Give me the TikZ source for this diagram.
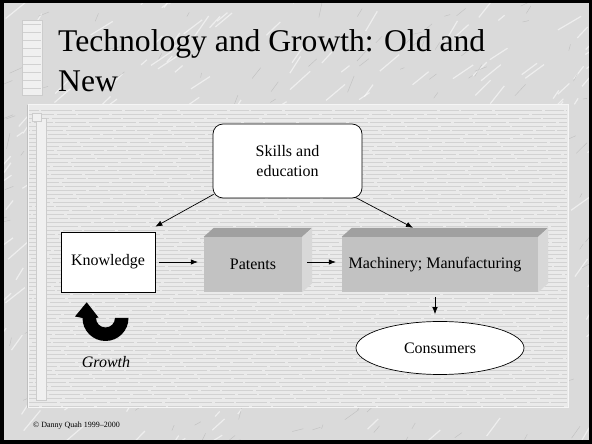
\documentclass[tikz,border=0pt]{standalone}
\usepackage{fontspec}
\setmainfont{Liberation Serif}
\usetikzlibrary{arrows.meta,shapes.geometric,calc}
\definecolor{marble}{HTML}{DADADA}
\definecolor{veindark}{HTML}{A0A0A0}
\definecolor{panelfill}{HTML}{EAEAEA}
\definecolor{panelline}{HTML}{D2D2D2}
\definecolor{boxfront}{HTML}{C2C2C2}
\definecolor{boxtop}{HTML}{A0A0A0}
\definecolor{boxside}{HTML}{D8D8D8}
\begin{document}
\begin{tikzpicture}[x=1pt,y=1pt,
  txt/.style={font=\fontsize{16}{20}\selectfont},
  conn/.style={-{Latex[length=7pt,width=5.5pt]}, line width=0.7pt},
  boxface/.style={fill=boxfront, draw=none, inner sep=0pt, txt},
  topface/.style={fill=boxtop},
  sideface/.style={fill=boxside},
  veinlight/.style={white, line width=1.2pt, opacity=0.55},
  veingray/.style={veindark, line width=0.4pt, opacity=0.45},
  strip/.style={fill=white!94!black, draw=white!80!black, line width=0.4pt}]
\useasboundingbox (0,0) rectangle (592,444);
% marble background
\fill[marble] (0,0) rectangle (592,444);
\begin{scope}
\clip (0,0) rectangle (592,444);
\pgfmathsetseed{12}
\foreach \i in {1,...,260}{
  \pgfmathsetmacro{\xa}{rnd*640-30}
  \pgfmathsetmacro{\ya}{rnd*470-15}
  \pgfmathsetmacro{\ll}{6+rnd*22}
  \pgfmathsetmacro{\aa}{30+rnd*30}
  \draw[veinlight] (\xa,\ya) -- ++(\aa:\ll);
}
\foreach \i in {1,...,220}{
  \pgfmathsetmacro{\xa}{rnd*640-30}
  \pgfmathsetmacro{\ya}{rnd*470-15}
  \pgfmathsetmacro{\ll}{4+rnd*14}
  \pgfmathsetmacro{\aa}{10+rnd*70}
  \draw[veingray] (\xa,\ya) -- ++(\aa:\ll);
}
\end{scope}
\draw[black, line width=3.5pt] (1.75,1.75) rectangle (590.25,442.25);
% title decoration
\draw[strip] (22,349) rectangle (42,424);
\foreach \yy in {356,364,...,420} \draw[white!82!black, line width=0.4pt] (23,\yy) -- (41,\yy);
% title
\node[anchor=base west, align=left, inner sep=0pt,
  font=\fontsize{31.6}{40}\selectfont] (title) at (58,352)
  {Technology and Growth: Old and\\New};
% content panel
\fill[panelfill] (28,36) rectangle (568,339);
\foreach \yy [count=\k] in {38,42,...,336}{
  \pgfmathsetmacro{\ph}{mod(\k*37,97)}
  \draw[panelline, line width=0.45pt, dash pattern=on 47pt off 3pt on 19pt off 2pt on 31pt off 3pt, dash phase=\ph pt] (29,\yy) -- (567,\yy);
}
\draw[white!96!black, line width=1pt] (28,36) rectangle (568,339);
\draw[white!75!black, line width=0.5pt] (27.5,36) -- (27.5,339);
\draw[strip] (36,44) rectangle (46,326);
\draw[strip] (32,323) rectangle (41,331);
% nodes
\node[draw, rounded corners=10pt, fill=white, line width=0.7pt,
  minimum width=149pt, minimum height=74pt, align=center, txt] (skills)
  at (287.5,283) {Skills and\\education};
\node[draw, fill=white, line width=0.7pt, minimum width=94pt,
  minimum height=60pt, txt] (knowledge) at (108,182) {Knowledge};
\node[boxface, minimum width=98pt, minimum height=55pt] (patents)
  at (253,179.5) {Patents};
\fill[topface] (patents.north west) -- ++(10,9) -- ($(patents.north east)+(10,9)$) -- (patents.north east) -- cycle;
\fill[sideface] (patents.north east) -- ++(10,9) -- ($(patents.south east)+(10,9)$) -- (patents.south east) -- cycle;
\node[boxface, minimum width=196pt, minimum height=55pt] (machinery)
  at (440,179.5) {\hspace*{-10pt}Machinery; Manufacturing};
\fill[topface] (machinery.north west) -- ++(10,9) -- ($(machinery.north east)+(10,9)$) -- (machinery.north east) -- cycle;
\fill[sideface] (machinery.north east) -- ++(10,9) -- ($(machinery.south east)+(10,9)$) -- (machinery.south east) -- cycle;
\node[draw, ellipse, fill=white, line width=0.7pt, minimum width=168pt,
  minimum height=53pt, inner sep=0pt, txt] (consumers) at (440,96) {Consumers};
% connectors
\draw[conn] ($(skills.south west)+(1,4)$) -- ($(knowledge.north east)+(0,5)$);
\draw[conn] ($(skills.south east)+(-7,1)$) -- ($(machinery.north)+(-27,9)$);
\draw[conn, shorten <=4pt, shorten >=6pt] (knowledge.east) -- (knowledge.east -| patents.west);
\draw[conn, shorten <=5pt, shorten >=6pt] ($(patents.east)+(0,2.5)$) -- ($(machinery.west)+(0,2.5)$);
\draw[conn, shorten <=5pt, shorten >=7pt] ($(machinery.south)+(-5,0)$) -- ($(consumers.north)+(-5,0)$);
% growth arrow
\fill[black] (115,126) -- (128.5,126)
  arc[start angle=0, end angle=-180, radius=23]
  -- (75,127.5) -- (86.7,141.7) -- (98.5,126.5) -- (96,126)
  arc[start angle=180, end angle=360, radius=9.5] -- cycle;
\node[txt, font=\fontsize{16}{20}\selectfont\itshape] (growth) at (106,82) {Growth};
% footer
\node[anchor=base west, inner sep=0pt, font=\fontsize{8}{10}\selectfont] (copy)
  at (33,16) {© Danny Quah 1999–2000};
\end{tikzpicture}
\end{document}
